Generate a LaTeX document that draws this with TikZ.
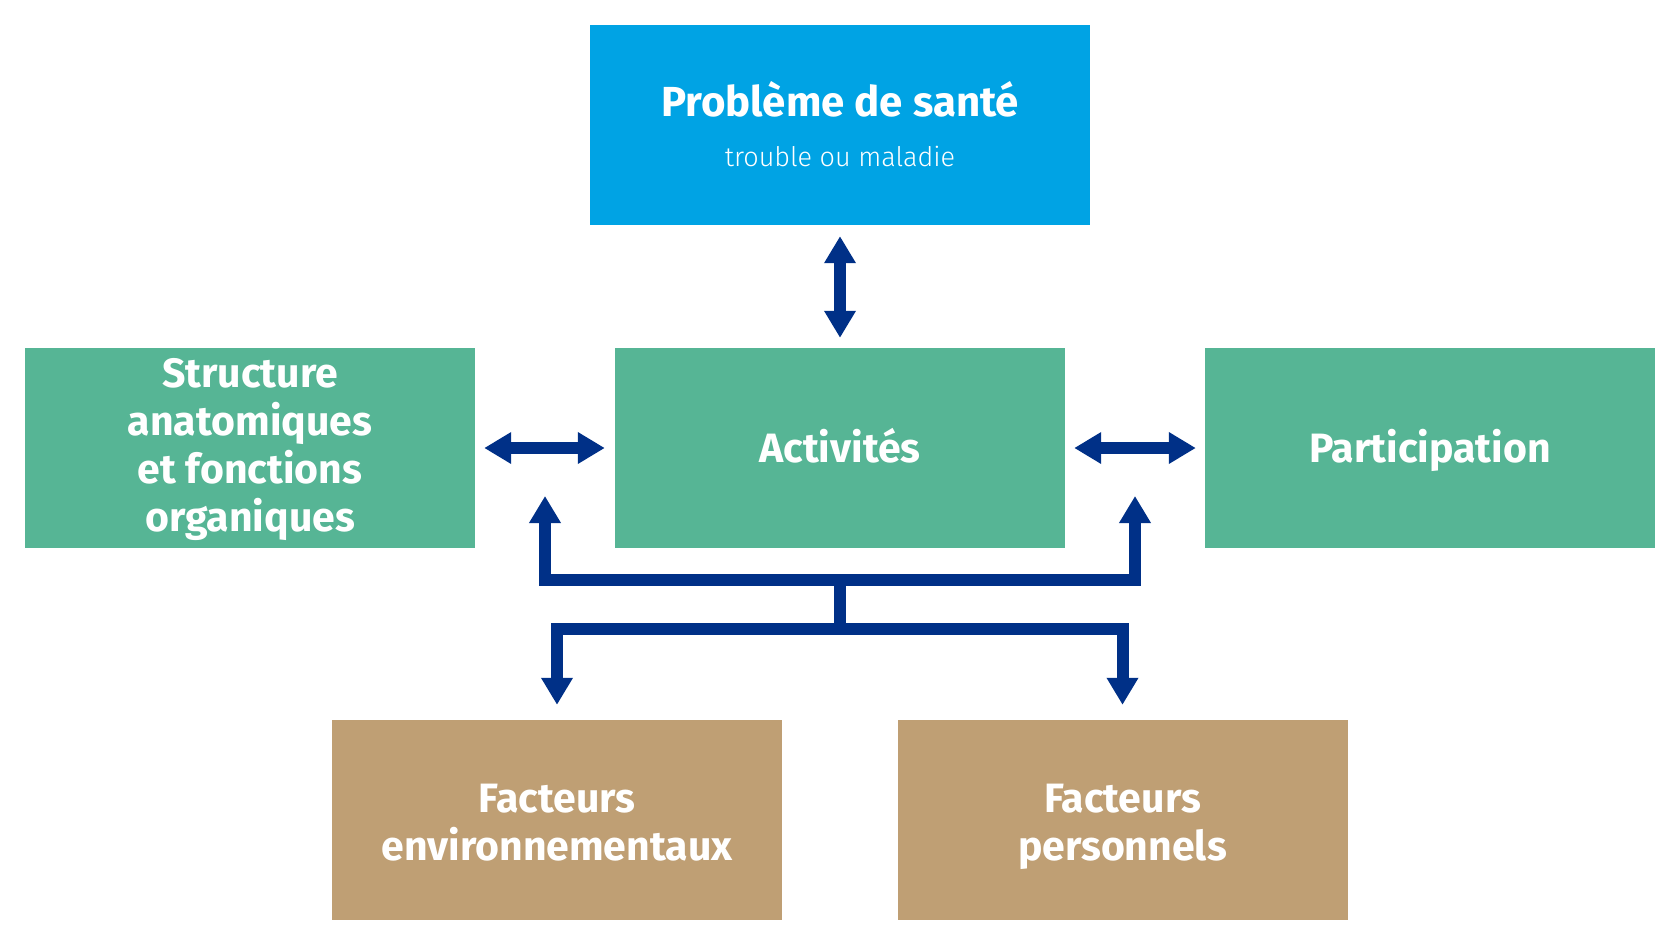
\documentclass[tikz,border=0pt]{standalone}
\usepackage{fontspec}
\setmainfont{Fira Sans}
\newfontfamily\titlefont{Fira Sans Bold}
\newfontfamily\lightfont{Fira Sans Light}
\usetikzlibrary{arrows.meta}
\definecolor{cblue}{RGB}{0,163,228}
\definecolor{cgreen}{RGB}{86,181,149}
\definecolor{ctan}{RGB}{191,159,116}
\definecolor{carrow}{RGB}{0,48,135}
\newcommand\lstr{\rule[-10pt]{0pt}{48pt}}
\newcommand\lstrlow{\rule[-16pt]{0pt}{54pt}}
\newcommand\lstrhigh{\rule[-10pt]{0pt}{53pt}}
\tikzset{
  box/.style={minimum width=450pt, minimum height=200pt, inner sep=0pt, align=center,
    text=white, font=\titlefont\fontsize{41}{48}\selectfont},
  lbl/.style={text=white, inner sep=0pt, anchor=base},
  conn/.style={draw=carrow, line width=12pt, line join=miter},
  conn2/.style={conn, arrows={Triangle[width=30pt,length=27pt]-Triangle[width=30pt,length=27pt]}},
}
\begin{document}
\begin{tikzpicture}[x=1pt,y=-1pt]
\useasboundingbox (0,0) rectangle (1680,945);
\node[box, fill=cblue, minimum width=500pt] (sante) at (840,125) {};
\node[lbl, font=\titlefont\fontsize{42}{48}\selectfont] (santeT) at (840,116) {Problème de santé};
\node[lbl, font=\lightfont\fontsize{27}{32}\selectfont] (santeS) at (840,166.5) {trouble ou maladie};
\node[box, fill=cgreen] (struct) at (250,448) {\lstr Structure\\\lstr anatomiques\\\lstr et fonctions\\\lstrlow organiques};
\node[box, fill=cgreen] (activ) at (840,448) {\lstr Activités};
\node[box, fill=cgreen] (partic) at (1430,448) {\lstr Participation};
\node[box, fill=ctan] (env) at (557,820) {\lstrhigh Facteurs\\\lstr environnementaux};
\node[box, fill=ctan] (pers) at (1122.5,820) {\lstrhigh Facteurs\\\lstr personnels};

\coordinate (upL) at (545,496);
\coordinate (upR) at (1135,496);
\coordinate (barU) at (840,580);
\coordinate (barD) at (840,629);
\coordinate (dnL) at ([yshift=15pt]env.north);
\coordinate (dnR) at ([yshift=15pt]pers.north);

\draw[conn2] ([yshift=-11pt]sante.south) -- ([yshift=10pt]activ.north);
\draw[conn2] ([xshift=9pt]struct.east) -- ([xshift=-10pt]activ.west);
\draw[conn2] ([xshift=9pt]activ.east) -- ([xshift=-9pt]partic.west);
\draw[conn2] (upL) -- (upL |- barU) -- (upR |- barU) -- (upR);
\draw[conn] (barU) -- (barD);
\draw[conn2] (dnL) -- (dnL |- barD) -- (dnR |- barD) -- (dnR);
\end{tikzpicture}
\end{document}
